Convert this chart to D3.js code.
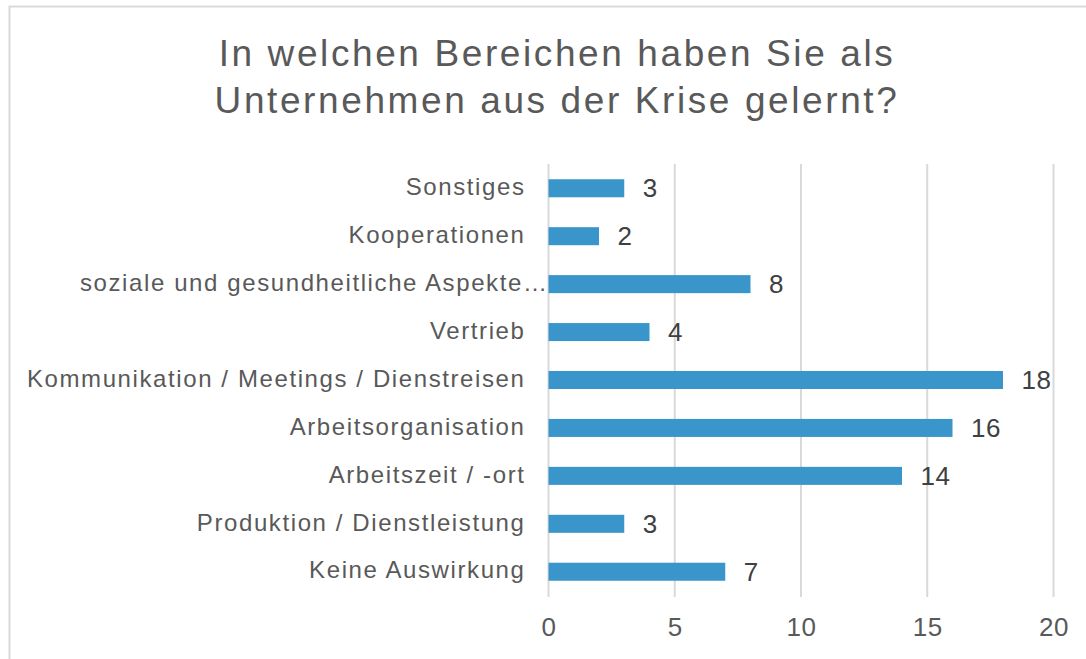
<!DOCTYPE html>
<html>
<head>
<meta charset="utf-8">
<script src="https://cdn.jsdelivr.net/npm/d3@7"></script>
<style>
  body { margin: 0; background: #fff; }
  text { font-family: "Liberation Sans", Arial, sans-serif; }
</style>
</head>
<body>
<div id="vis"></div>
<script>
// chart data
const CATEGORIES = ["Sonstiges", "Kooperationen", "soziale und gesundheitliche Aspekte\u2026",
                    "Vertrieb", "Kommunikation / Meetings / Dienstreisen", "Arbeitsorganisation",
                    "Arbeitszeit / -ort", "Produktion / Dienstleistung", "Keine Auswirkung"];
const VALUES = [3, 2, 8, 4, 18, 16, 14, 3, 7];
const X_TICKS = [0, 5, 10, 15, 20];
const TITLE_LINES = ["In welchen Bereichen haben Sie als", "Unternehmen aus der Krise gelernt?"];

const FRAME_WIDTH = 1086;
const FRAME_HEIGHT = 659;

const FRAME = d3.select("#vis")
                .append("svg")
                  .attr("width", FRAME_WIDTH)
                  .attr("height", FRAME_HEIGHT);

// chart border (runs off the right and bottom edge)
FRAME.append("rect")
     .attr("x", 9.5).attr("y", 6.5)
     .attr("width", 1100).attr("height", 700)
     .attr("fill", "#fff")
     .attr("stroke", "#d9d9d9")
     .attr("stroke-width", 2);

// title
FRAME.append("text")
     .attr("x", 557).attr("y", 66)
     .attr("text-anchor", "middle")
     .attr("font-size", "37px")
     .attr("letter-spacing", "2.6px")
     .attr("fill", "#595959")
     .selectAll("tspan")
     .data(TITLE_LINES)
     .enter()
     .append("tspan")
       .attr("x", 557)
       .attr("dy", (d, i) => i === 0 ? 0 : 47)
       .text(d => d);

// scales
const X_SCALE = d3.scaleLinear().domain([0, 20]).range([548.5, 1053.5]);
const Y_SCALE = d3.scaleBand().domain(CATEGORIES).range([164.3, 595.7])
                  .paddingInner(0.624).paddingOuter(0.312);

// gridlines
FRAME.selectAll(".grid")
     .data(X_TICKS)
     .enter()
     .append("line")
       .attr("x1", d => X_SCALE(d)).attr("x2", d => X_SCALE(d))
       .attr("y1", 164).attr("y2", 597)
       .attr("stroke", "#d9d9d9")
       .attr("stroke-width", 2);

// bars
FRAME.selectAll(".bar")
     .data(VALUES)
     .enter()
     .append("rect")
       .attr("x", X_SCALE(0))
       .attr("y", (d, i) => Y_SCALE(CATEGORIES[i]))
       .attr("width", d => X_SCALE(d) - X_SCALE(0))
       .attr("height", Y_SCALE.bandwidth())
       .attr("fill", "#3a95ca");

// value labels
FRAME.selectAll(".val")
     .data(VALUES)
     .enter()
     .append("text")
       .attr("x", d => X_SCALE(d) + 18.5)
       .attr("y", (d, i) => Y_SCALE(CATEGORIES[i]) + Y_SCALE.bandwidth() / 2)
       .attr("dy", "0.35em")
       .attr("font-size", "26px")
       .attr("letter-spacing", "0.5px")
       .attr("fill", "#404040")
       .text(d => d);

// y axis labels
const Y_AXIS = FRAME.append("g")
     .attr("transform", "translate(548.5,0)")
     .call(d3.axisLeft(Y_SCALE).tickSize(0).tickPadding(23));
Y_AXIS.select(".domain").remove();
Y_AXIS.selectAll("text")
      .attr("dy", "0.28em")
      .attr("dx", d => d.endsWith("\u2026") ? 23 : 0) // truncated label runs into the axis
      .attr("font-size", "24px")
      .attr("letter-spacing", "1.6px")
      .attr("font-family", "Liberation Sans, Arial, sans-serif")
      .attr("fill", "#595959");

// x axis labels
const X_AXIS = FRAME.append("g")
     .attr("transform", "translate(0,636)")
     .call(d3.axisBottom(X_SCALE).tickValues(X_TICKS).tickSize(0).tickPadding(0));
X_AXIS.select(".domain").remove();
X_AXIS.selectAll("text")
      .attr("y", 0)
      .attr("dy", 0)
      .attr("font-size", "26px")
      .attr("letter-spacing", "0.5px")
      .attr("font-family", "Liberation Sans, Arial, sans-serif")
      .attr("fill", "#595959");
</script>
</body>
</html>
